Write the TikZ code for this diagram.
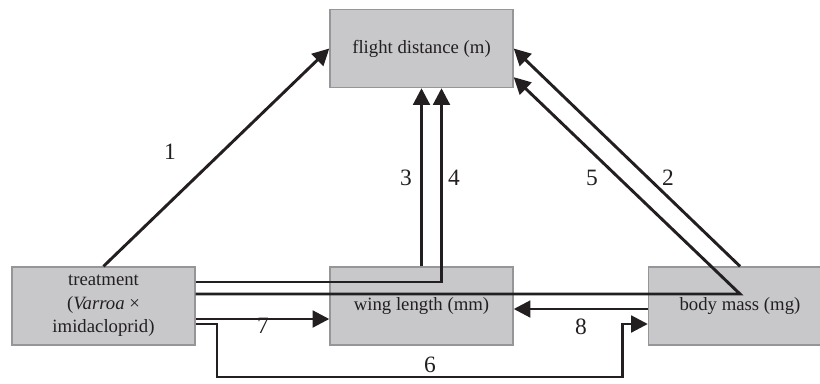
\documentclass[tikz,border=0pt]{standalone}
\usepackage{fontspec}
\setmainfont{Liberation Serif}
\usetikzlibrary{arrows.meta}
\definecolor{ink}{RGB}{35,31,32}
\definecolor{boxfill}{RGB}{200,200,202}
\definecolor{boxline}{RGB}{150,150,152}
\begin{document}
\begin{tikzpicture}[x=0.03cm,y=-0.03cm,line width=2.5pt]
            %
            % `box' is used for the four variables.
            % `effect' arrows carry the numbered effects.
            % `num' is used for the effect numbers.
            \tikzstyle{box} = [draw=boxline,fill=boxfill,line width=1.2pt,minimum width=5.49cm,minimum height=2.34cm,align=center,text=ink,font=\fontsize{16}{20}\selectfont]
            \tikzstyle{effect} = [draw=ink,-{Triangle[length=0.5cm,width=0.5cm]}]
            \tikzstyle{num} = [text=ink,font=\fontsize{20}{23}\selectfont,inner sep=0pt]
            \useasboundingbox (0,0) rectangle (820,383);
            %
            % Boxes
            \node[box] (flight) at (421.5,48.5) {flight distance (m)};
            \node[box] (trt) at (103.5,306) {treatment\\(\textit{Varroa} ×\\imidacloprid)};
            \node[box] (wing) at (421.5,306) {wing length (mm)};
            \node[box] (body) at (740,306) {body mass (mg)};
            %
            % Bends
            \coordinate (bend5) at (740,294);
            \coordinate (low6) at (217,377);
            %
            % Paths to flight distance
            \draw[effect] (trt.north) -- (flight.west);
            \draw[effect] (body.north) -- (flight.east);
            \draw[effect] (wing.north) -- (flight.south);
            \draw[effect] ([yshift=0.72cm]trt.east) -| ([xshift=0.6cm]flight.south);
            \draw[effect] ([yshift=0.36cm]trt.east) -- (bend5) -- ([yshift=-0.86cm]flight.east);
            %
            % Paths along the bottom row
            \draw[effect] ([yshift=-0.54cm]trt.east) -| (low6) -| ([xshift=-0.76cm,yshift=-0.54cm]body.west) -- ([yshift=-0.54cm]body.west);
            \draw[effect] ([yshift=-0.39cm]trt.east) -- ([yshift=-0.39cm]wing.west);
            \draw[effect] ([yshift=-0.09cm]body.west) -- ([yshift=-0.09cm]wing.east);
            %
            % Numbers
            \node[num] (n1) at (170,152) {1};
            \node[num] (n2) at (668,178) {2};
            \node[num] (n3) at (406,178) {3};
            \node[num] (n4) at (454,178) {4};
            \node[num] (n5) at (592,178) {5};
            \node[num] (n6) at (430,365) {6};
            \node[num] (n7) at (263,326) {7};
            \node[num] (n8) at (581,327) {8};
        \end{tikzpicture}
\end{document}
